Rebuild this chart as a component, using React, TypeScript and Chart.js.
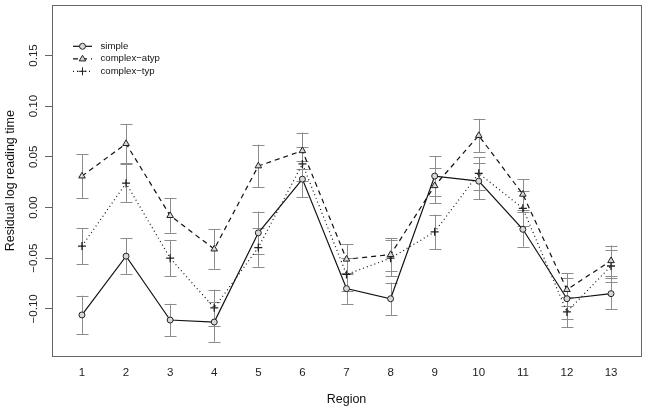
import React, { useEffect, useRef } from "react";
import { Chart, registerables } from "chart.js";

Chart.register(...registerables);

const regions = [1, 2, 3, 4, 5, 6, 7, 8, 9, 10, 11, 12, 13];
const seriesNames = ["simple", "complex\u2212atyp", "complex\u2212typ"];
const simpleMean = [-0.106, -0.048, -0.111, -0.113, -0.025, 0.028, -0.08, -0.09, 0.031, 0.026, -0.0215, -0.09, -0.085];
const simpleErr = [0.019, 0.0175, 0.016, 0.0195, 0.021, 0.018, 0.015, 0.016, 0.02, 0.018, 0.017, 0.02, 0.015];
const atypMean = [0.031, 0.063, -0.008, -0.041, 0.041, 0.056, -0.051, -0.0465, 0.0215, 0.071, 0.013, -0.081, -0.0525];
const atypErr = [0.0215, 0.0195, 0.017, 0.0195, 0.021, 0.018, 0.015, 0.0165, 0.017, 0.0165, 0.015, 0.016, 0.015];
const typMean = [-0.038, 0.024, -0.05, -0.099, -0.0395, 0.043, -0.066, -0.05, -0.024, 0.0337, -0.0008, -0.103, -0.0577];
const typErr = [0.018, 0.0185, 0.018, 0.018, 0.019, 0.017, 0.016, 0.018, 0.017, 0.016, 0.0175, 0.015, 0.016];
const yTicks = [-0.1, -0.05, 0, 0.05, 0.1, 0.15];

const FONT = "'Liberation Sans', Arial, Helvetica, sans-serif";

const fmt = (v: number) => {
  const s = Number(v).toFixed(2);
  return s.replace("-", "\u2212");
};

const errorBarPlugin = {
  id: "errorBars",
  beforeDatasetsDraw(chart: any) {
    const ctx = chart.ctx;
    const xs = chart.scales.x;
    const ys = chart.scales.y;
    ctx.save();
    ctx.strokeStyle = "#8c8c8c";
    ctx.lineWidth = 1;
    chart.data.datasets.forEach((ds: any) => {
      ds.data.forEach((p: any, i: number) => {
        const e = ds.errors[i];
        const x = Math.round(xs.getPixelForValue(p.x)) + 0.5;
        const y1 = ys.getPixelForValue(p.y + e);
        const y2 = ys.getPixelForValue(p.y - e);
        ctx.beginPath();
        ctx.moveTo(x, y1);
        ctx.lineTo(x, y2);
        ctx.moveTo(x - 6, Math.round(y1) + 0.5);
        ctx.lineTo(x + 6, Math.round(y1) + 0.5);
        ctx.moveTo(x - 6, Math.round(y2) + 0.5);
        ctx.lineTo(x + 6, Math.round(y2) + 0.5);
        ctx.stroke();
      });
    });
    ctx.restore();
  },
};

const boxPlugin = {
  id: "box",
  afterDraw(chart: any) {
    const { left, top, right, bottom } = chart.chartArea;
    const ctx = chart.ctx;
    ctx.save();
    ctx.strokeStyle = "#666";
    ctx.lineWidth = 1;
    ctx.strokeRect(Math.round(left) + 0.5, Math.round(top) + 0.5, Math.round(right - left), Math.round(bottom - top));
    ctx.restore();
  },
};

function drawMarker(ctx: any, style: string, x: number, y: number) {
  ctx.beginPath();
  if (style === "circle") {
    ctx.arc(x, y, 3, 0, Math.PI * 2);
    ctx.fill();
    ctx.stroke();
  } else if (style === "triangle") {
    const r = 3.5;
    ctx.moveTo(x, y - r);
    ctx.lineTo(x + r * 0.95, y + r * 0.6);
    ctx.lineTo(x - r * 0.95, y + r * 0.6);
    ctx.closePath();
    ctx.fill();
    ctx.stroke();
  } else {
    ctx.moveTo(x - 4, y);
    ctx.lineTo(x + 4, y);
    ctx.moveTo(x, y - 4);
    ctx.lineTo(x, y + 4);
    ctx.stroke();
  }
}

const legendPlugin = {
  id: "rLegend",
  afterDraw(chart: any) {
    const ctx = chart.ctx;
    const { left, top } = chart.chartArea;
    ctx.save();
    chart.data.datasets.forEach((ds: any, i: number) => {
      const y = top + 41 + i * 12.5;
      ctx.strokeStyle = "#111";
      ctx.lineWidth = 1.2;
      ctx.setLineDash(ds.borderDash || []);
      ctx.beginPath();
      ctx.moveTo(left + 21, y);
      ctx.lineTo(left + 40, y);
      ctx.stroke();
      ctx.setLineDash([]);
      ctx.fillStyle = "#d8d8d8";
      ctx.strokeStyle = "#222";
      ctx.lineWidth = 1;
      drawMarker(ctx, ds.pointStyle, left + 30.5, y);
      ctx.fillStyle = "#111";
      ctx.font = `9.6px ${FONT}`;
      ctx.textBaseline = "middle";
      ctx.textAlign = "left";
      ctx.fillText(ds.label, left + 48.5, y);
    });
    ctx.restore();
  },
};

export default function App() {
  const ref = useRef<HTMLCanvasElement>(null);
  useEffect(() => {
    if (!ref.current) return;
    const mk = (vals: number[]) => regions.map((r, i) => ({ x: r, y: vals[i] }));
    const base = {
      borderColor: "#111",
      borderWidth: 1.2,
      pointBorderColor: "#222",
      pointBackgroundColor: "#d8d8d8",
      pointBorderWidth: 1,
      fill: false,
      tension: 0,
    };
    const chart = new Chart(ref.current, {
      type: "line",
      data: {
        datasets: [
          { ...base, label: seriesNames[0], data: mk(simpleMean), errors: simpleErr, pointStyle: "circle", pointRadius: 3, borderDash: [] },
          { ...base, label: seriesNames[1], data: mk(atypMean), errors: atypErr, pointStyle: "triangle", pointRadius: 3.8, borderDash: [5, 4] },
          { ...base, label: seriesNames[2], data: mk(typMean), errors: typErr, pointStyle: "cross", pointRadius: 4, pointBorderWidth: 1.3, borderDash: [1, 3] },
        ] as any,
      },
      options: {
        animation: false,
        responsive: false,
        layout: { padding: { top: 5, right: 6, left: 0, bottom: 0 } },
        plugins: { legend: { display: false }, tooltip: { enabled: false } },
        scales: {
          x: {
            type: "linear",
            min: 0.32,
            max: 13.68,
            afterBuildTicks: (s: any) => {
              s.ticks = regions.map((v) => ({ value: v }));
            },
            afterFit: (s: any) => {
              s.height = 53;
            },
            grid: { display: false, drawTicks: false },
            border: { display: false },
            ticks: {
              padding: 10,
              autoSkip: false,
              maxRotation: 0,
              color: "#222",
              font: { family: FONT, size: 11.5 },
              callback: (v: any) => String(v),
            },
            title: {
              display: true,
              text: "Region",
              color: "#111",
              font: { family: FONT, size: 12.5 },
              padding: { top: 0, bottom: 2 },
            },
          },
          y: {
            type: "linear",
            min: -0.1465,
            max: 0.1995,
            afterBuildTicks: (s: any) => {
              s.ticks = yTicks.map((v) => ({ value: v }));
            },
            afterFit: (s: any) => {
              s.width = 52;
            },
            grid: { drawOnChartArea: false, drawTicks: true, tickLength: 7, color: "#666" },
            border: { display: false },
            ticks: {
              minRotation: 90,
              maxRotation: 90,
              crossAlign: "center",
              padding: -3,
              color: "#222",
              font: { family: FONT, size: 11.5 },
              callback: (v: any) => fmt(v),
            },
            title: {
              display: true,
              text: "Residual log reading time",
              color: "#111",
              font: { family: FONT, size: 12.5 },
              padding: { top: 3, bottom: 0 },
            },
          },
        },
      } as any,
      plugins: [errorBarPlugin, boxPlugin, legendPlugin],
    });
    return () => chart.destroy();
  }, []);
  return (
    <div style={{ position: "fixed", left: 0, top: 0, width: 647, height: 409, background: "#fff" }}>
      <canvas ref={ref} width={647} height={409} style={{ width: 647, height: 409, display: "block" }} />
    </div>
  );
}
